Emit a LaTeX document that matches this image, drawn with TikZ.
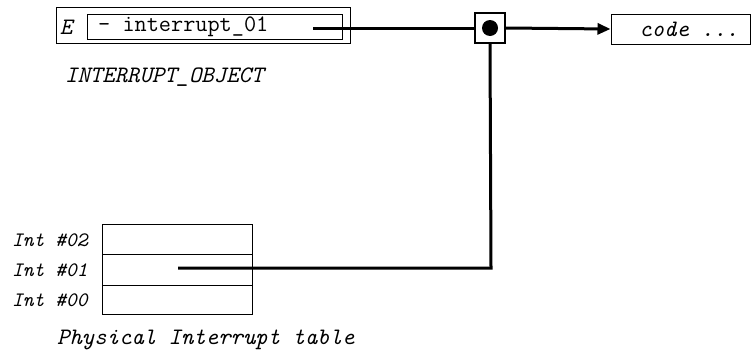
\documentclass[tikz,border=0pt]{standalone}
\usetikzlibrary{arrows.meta}
\begin{document}
\begin{tikzpicture}[x=1pt,y=-1pt,
  thinbox/.style={draw,line width=1pt,inner sep=0pt,rectangle},
  conn/.style={line width=3pt},
  lbl/.style={font=\fontsize{23.6}{25}\ttfamily\itshape,inner sep=0pt},
  txt/.style={font=\fontsize{23.6}{25}\ttfamily,inner sep=0pt},
  intl/.style={font=\fontsize{20.5}{22}\ttfamily\itshape,inner sep=0pt,anchor=west}]
\useasboundingbox (0,0) rectangle (751,351);
% interrupt object
\node[thinbox,minimum width=294pt,minimum height=36pt] (outer) at (203,25) {};
\node[thinbox,minimum width=255pt,minimum height=25pt] (inner) at (214.5,26.5) {};
\node[lbl] (E) at (66,27) {E};
\node[txt,anchor=west] (itext) at (98,27) {- interrupt\_01};
\coordinate (start) at (313,28);
\node[lbl,anchor=west] (objlbl) at (65,77) {INTERRUPT\_OBJECT};
% junction
\node[draw,line width=2pt,minimum width=30pt,minimum height=30pt,inner sep=0pt] (junc) at (490,28) {};
\fill (junc.center) circle (8);
% code box
\node[thinbox,minimum width=139pt,minimum height=30pt] (code) at (680.5,29) {};
\node[lbl] (codet) at (689,29) {code ...};
% table
\node[thinbox,minimum width=150pt,minimum height=30pt] (r2) at (177,239) {};
\node[thinbox,minimum width=150pt,minimum height=31pt] (r1) at (177,269.5) {};
\node[thinbox,minimum width=150pt,minimum height=29pt] (r0) at (177,299.5) {};
\node[intl] (l2) at (12,240) {Int \#02};
\node[intl] (l1) at (12,270) {Int \#01};
\node[intl] (l0) at (12,300) {Int \#00};
\node[lbl,anchor=west] (tbl) at (57,340) {Physical Interrupt table};
\coordinate (tstart) at (178,268);
\coordinate (corner) at (491,268);
% connectors
\draw[conn] (start) -- (junc.west);
\draw[conn,-{Triangle[length=13pt,width=11pt]}] (junc.east) -- (code.west);
\draw[conn] (junc.south) -- (corner) -- (tstart);
\end{tikzpicture}
\end{document}
